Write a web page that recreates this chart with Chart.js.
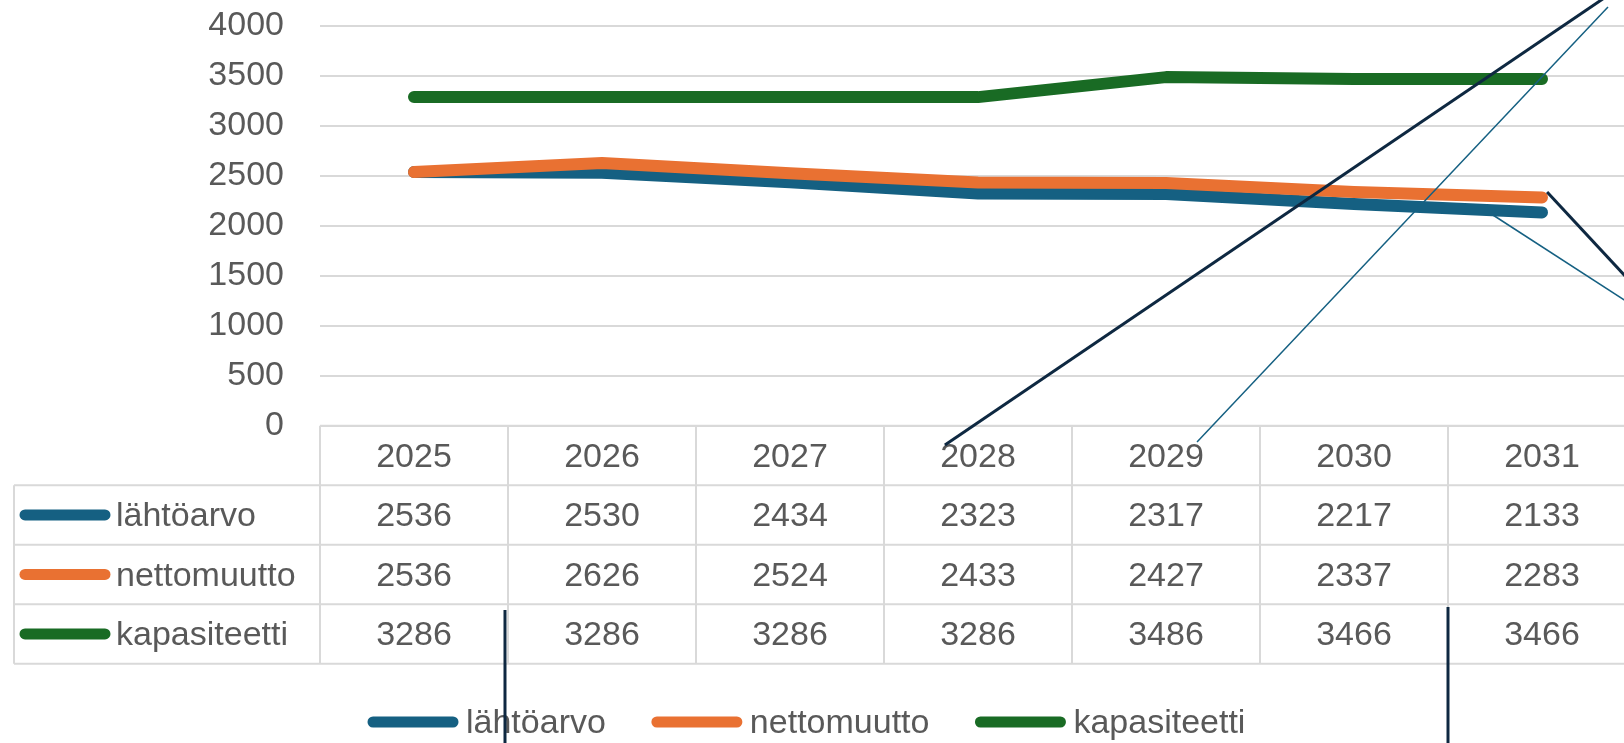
<!DOCTYPE html>
<html>
<head>
<meta charset="utf-8">
<script src="https://cdn.jsdelivr.net/npm/chart.js@4.4.1/dist/chart.umd.min.js"></script>
<style>
html , body { margin: 0; padding: 0; background: #fff; overflow: hidden; }
canvas { display: block; }
</style>
</head>
<body>
<canvas id="chart" width="1640" height="743"></canvas>
<script>
const years = ['2025' , '2026' , '2027' , '2028' , '2029' , '2030' , '2031'];
const lahtoarvo = [2536 , 2530 , 2434 , 2323 , 2317 , 2217 , 2133];
const nettomuutto = [2536 , 2626 , 2524 , 2433 , 2427 , 2337 , 2283];
const kapasiteetti = [3286 , 3286 , 3286 , 3286 , 3486 , 3466 , 3466];
const seriesNames = ['lähtöarvo' , 'nettomuutto' , 'kapasiteetti'];
const seriesColors = ['#156082' , '#E97132' , '#196B24'];
const seriesData = [lahtoarvo , nettomuutto , kapasiteetti];

// pen strokes drawn over the picture, as [category index , value]
const penStrokes = [
	{ color: '#0E2841' , width: 3 , from: [2.824 , -193] , to: [6.468 , 4452] },
	{ color: '#156082' , width: 1.5 , from: [4.165 , -163] , to: [6.351 , 4187] },
	{ color: '#0E2841' , width: 3 , from: [6.027 , 2337] , to: [6.521 , 1337] },
	{ color: '#156082' , width: 1.5 , from: [5.739 , 2107] , to: [6.521 , 1157] },
	{ color: '#0E2841' , width: 3 , from: [0.484 , -1843] , to: [0.484 , -3243] },
	{ color: '#0E2841' , width: 3 , from: [5.5 , -1813] , to: [5.5 , -3243] },
];

const FONT = '34px "Liberation Sans", Arial, sans-serif';
const TEXT = '#595959';
const GRID = '#d9d9d9';

function swatch(ctx , x , y , color) {
	ctx.strokeStyle = color;
	ctx.lineWidth = 11;
	ctx.lineCap = 'round';
	ctx.beginPath();
	ctx.moveTo(x + 5 , y);
	ctx.lineTo(x + 85 , y);
	ctx.stroke();
}

const tablePlugin = {
	id: 'dataTable',
	afterDraw(chart) {
		const ctx = chart.ctx;
		const xs = chart.scales.x;
		const ys = chart.scales.y;
		const half = (xs.getPixelForValue(1) - xs.getPixelForValue(0)) / 2;
		const top = ys.getPixelForValue(0);
		const rowH = 59.5;
		const left = 14;
		const firstCol = xs.getPixelForValue(0) - half;
		const lastCol = xs.getPixelForValue(years.length - 1) + half;
		const bottom = top + rowH * 4;

		ctx.save();
		// table grid
		ctx.strokeStyle = GRID;
		ctx.lineWidth = 2;
		ctx.beginPath();
		ctx.moveTo(firstCol , top);
		ctx.lineTo(lastCol , top);
		for (let r = 1; r <= 4; r++) {
			ctx.moveTo(left , top + rowH * r);
			ctx.lineTo(lastCol , top + rowH * r);
		}
		ctx.moveTo(left , top + rowH);
		ctx.lineTo(left , bottom);
		for (let i = 0; i <= years.length; i++) {
			const x = firstCol + 2 * half * i;
			ctx.moveTo(x , top);
			ctx.lineTo(x , bottom);
		}
		ctx.stroke();

		// header + values
		ctx.font = FONT;
		ctx.fillStyle = TEXT;
		ctx.textAlign = 'center';
		ctx.textBaseline = 'middle';
		years.forEach((y , i) => ctx.fillText(y , xs.getPixelForValue(i) , top + rowH / 2 + 2));
		seriesData.forEach((arr , r) => {
			const cy = top + rowH * (r + 1.5) + 2;
			arr.forEach((v , i) => ctx.fillText(String(v) , xs.getPixelForValue(i) , cy));
		});

		// row labels
		seriesNames.forEach((name , r) => {
			const cy = top + rowH * (r + 1.5);
			swatch(ctx , 20 , cy , seriesColors[r]);
			ctx.fillStyle = TEXT;
			ctx.textAlign = 'left';
			ctx.fillText(name , 116 , cy + 2);
		});

		// legend
		let lx = 372;
		const ly = 722;
		seriesNames.forEach((name , r) => {
			swatch(ctx , lx - 4 , ly , seriesColors[r]);
			ctx.fillStyle = TEXT;
			ctx.textAlign = 'left';
			ctx.fillText(name , lx + 94 , ly + 2);
			lx += 94 + ctx.measureText(name).width + 50;
		});

		// pen strokes on top
		ctx.lineCap = 'butt';
		penStrokes.forEach(s => {
			ctx.strokeStyle = s.color;
			ctx.lineWidth = s.width;
			ctx.beginPath();
			ctx.moveTo(xs.getPixelForValue(s.from[0]) , ys.getPixelForValue(s.from[1]));
			ctx.lineTo(xs.getPixelForValue(s.to[0]) , ys.getPixelForValue(s.to[1]));
			ctx.stroke();
		});
		ctx.restore();
	}
};

const ctx = document.getElementById('chart').getContext('2d');
new Chart(ctx , {
	type: 'line',
	data: {
		labels: years,
		datasets: seriesNames.map((name , i) => ({
			label: name,
			data: seriesData[i],
			borderColor: seriesColors[i],
			backgroundColor: seriesColors[i],
			borderWidth: 12,
			borderCapStyle: 'round',
			borderJoinStyle: 'round',
			pointRadius: 0,
			tension: 0,
			order: [2 , 1 , 3][i],
		}))
	},
	options: {
		responsive: false,
		animation: false,
		devicePixelRatio: 1,
		layout: { padding: { top: 25.7 , bottom: 317.3 , left: 0 , right: 4 } },
		plugins: {
			legend: { display: false },
			tooltip: { enabled: false },
		},
		scales: {
			x: { display: false , offset: true },
			y: {
				min: 0,
				max: 4000,
				border: { display: false },
				grid: { color: GRID , lineWidth: 2 , drawTicks: false },
				ticks: {
					stepSize: 500,
					padding: 36,
					color: TEXT,
					font: { family: '"Liberation Sans", Arial, sans-serif' , size: 34 },
					callback: (v) => String(v),
				},
				afterFit(scale) {
					scale.width = 320;
					scale.paddingTop = 0;
					scale.paddingBottom = 0;
				},
			}
		}
	},
	plugins: [tablePlugin]
});
</script>
</body>
</html>
